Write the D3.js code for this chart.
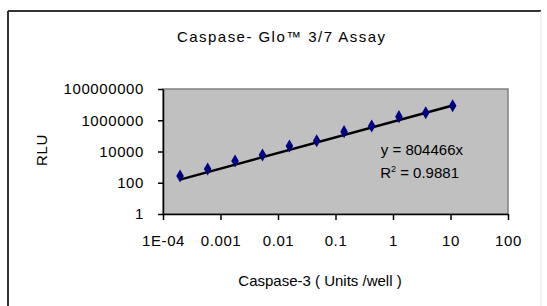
<!DOCTYPE html>
<html>
<head>
<meta charset="utf-8">
<script src="https://cdn.jsdelivr.net/npm/d3@7"></script>
<style>
  body { margin: 0; background: #fff; }
  text { font-family: "Liberation Sans", Arial, sans-serif; }
</style>
</head>
<body>
<div id="box"></div>
<script>
var w = 547,
    h = 306;

// caspase-3 units/well (3-fold dilutions) and measured RLU
var units = [0.000198, 0.000598, 0.00179, 0.00537, 0.0158, 0.0471, 0.141, 0.426, 1.27, 3.71, 10.9];
var rlu   = [270, 760, 2470, 5970, 22500, 49000, 186000, 428000, 1690000, 3030000, 8500000];
var slope = 804466;
var xTicks = [0.0001, 0.001, 0.01, 0.1, 1, 10, 100];
var xTickLabels = ["1E-04", "0.001", "0.01", "0.1", "1", "10", "100"];
var yTicks = [1, 100, 10000, 1000000, 100000000];

// plot area edges
var pLeft = 163, pRight = 508, pTop = 89, pBottom = 214;

var svg = d3.select("#box")
            .append("svg")
            .attr("width", w)
            .attr("height", h);

// outer frame
svg.append("line").attr("x1", 8).attr("y1", 11).attr("x2", 8).attr("y2", h)
   .attr("stroke", "#333").attr("stroke-width", 2);
svg.append("line").attr("x1", 8).attr("y1", 11).attr("x2", 541).attr("y2", 11)
   .attr("stroke", "#333").attr("stroke-width", 2);
svg.append("line").attr("x1", 541).attr("y1", 11).attr("x2", 541).attr("y2", h)
   .attr("stroke", "#e4e4e4").attr("stroke-width", 1);

var x = d3.scaleLog().domain([0.0001, 100]).range([pLeft, pRight]);
var y = d3.scaleLog().domain([1, 100000000]).range([pBottom, pTop]);

// plot area
svg.append("rect")
   .attr("x", pLeft).attr("y", pTop)
   .attr("width", pRight - pLeft).attr("height", pBottom - pTop)
   .attr("fill", "#c0c0c0")
   .attr("stroke", "#808080")
   .attr("stroke-width", 1.5);

var xAxis = svg.append("g")
   .attr("transform", "translate(0," + pBottom + ")")
   .call(d3.axisBottom(x).tickValues(xTicks)
           .tickFormat(function(d, i) { return xTickLabels[i]; })
           .tickSize(6).tickSizeOuter(0).tickPadding(15));

var yAxis = svg.append("g")
   .attr("transform", "translate(" + pLeft + ",0)")
   .call(d3.axisLeft(y).tickValues(yTicks)
           .tickFormat(function(d) { return String(Math.round(d)); })
           .tickSize(5).tickSizeOuter(0).tickPadding(14));

svg.selectAll(".domain, .tick line").attr("stroke", "#000").attr("stroke-width", 1.5);
svg.selectAll(".tick text")
   .attr("font-family", "Liberation Sans, Arial, sans-serif")
   .attr("font-size", "15px")
   .attr("letter-spacing", "0.6px")
   .attr("fill", "#000");

// linear trendline y = slope * x
var trend = d3.line()
   .x(function(d) { return x(d); })
   .y(function(d) { return y(slope * d); });
svg.append("path")
   .datum([units[0], units[units.length - 1]])
   .attr("d", trend)
   .attr("fill", "none")
   .attr("stroke", "#000")
   .attr("stroke-width", 2.5);

// data markers
svg.selectAll("path.pt")
   .data(units)
   .enter()
   .append("path")
   .attr("class", "pt")
   .attr("d", d3.symbol().type(d3.symbolDiamond).size(50))
   .attr("transform", function(d, i) {
     return "translate(" + x(d) + "," + y(rlu[i]) + ")";
   })
   .attr("fill", "#000080");

// title and labels
svg.append("text")
   .text("Caspase- Glo\u2122 3/7 Assay")
   .attr("x", 177).attr("y", 42)
   .attr("textLength", 208)
   .attr("font-size", "15px")
   .attr("fill", "#000");

svg.append("text")
   .text("RLU")
   .attr("transform", "translate(47,150) rotate(-90)")
   .attr("text-anchor", "middle")
   .attr("font-size", "15px")
   .attr("letter-spacing", "0.6px")
   .attr("fill", "#000");

svg.append("text")
   .text("Caspase-3 ( Units /well )")
   .attr("x", 320).attr("y", 286)
   .attr("text-anchor", "middle")
   .attr("font-size", "15px")
   .attr("fill", "#000");

svg.append("text")
   .text("y = 804466x")
   .attr("x", 463).attr("y", 155)
   .attr("text-anchor", "end")
   .attr("font-size", "15px")
   .attr("fill", "#000");

var r2 = svg.append("text")
   .attr("x", 459).attr("y", 178)
   .attr("text-anchor", "end")
   .attr("font-size", "15px")
   .attr("fill", "#000");
r2.append("tspan").text("R");
r2.append("tspan").text("2").attr("font-size", "9px").attr("dy", "-6");
r2.append("tspan").text(" = 0.9881").attr("dy", "6");
</script>
</body>
</html>
